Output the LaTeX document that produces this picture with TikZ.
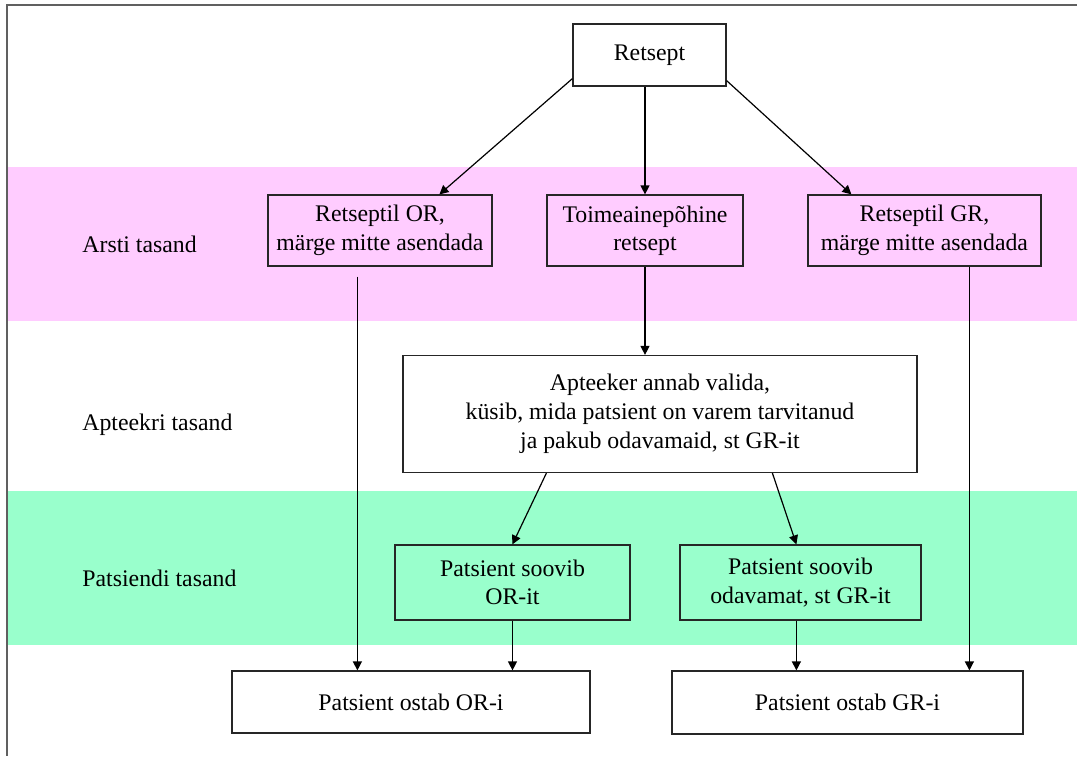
\documentclass[tikz,border=0pt]{standalone}
\usepackage{fontspec}
\setmainfont{Liberation Serif}
\usetikzlibrary{calc,arrows.meta}
\definecolor{bandpink}{HTML}{FFCCFF}
\definecolor{bandgreen}{HTML}{99FFCC}
\definecolor{framegray}{HTML}{606060}
\begin{document}
\begin{tikzpicture}[x=0.5pt,y=-0.5pt,
  box/.style={draw=black!85,line width=0.6pt,inner sep=0pt,align=center,
    font=\fontsize{11.9}{14.2}\selectfont},
  lvl/.style={anchor=west,inner sep=0pt,font=\fontsize{11.9}{14.2}\selectfont},
  arr/.style={-{Triangle[length=4.5pt,width=4.5pt]},line width=0.6pt,black}]
\useasboundingbox (0,0) rectangle (1077,756);
% bands
\fill[bandpink] (8,167) rectangle (1077,321);
\fill[bandgreen] (8,491) rectangle (1077,645);
% frame
\draw[framegray,line width=0.8pt] (1077,5) -- (7,5) -- (7,756);
% level labels
\node[lvl] (l1) at (82,244) {Arsti tasand};
\node[lvl] (l2) at (82,425) {Apteekri tasand};
\node[lvl] (l3) at (82,578) {Patsiendi tasand};
% boxes
\node[box,fill=white,minimum width=76.5pt,minimum height=31pt] (ret) at (649.5,55) {Retsept};
\node[box,fill=bandpink,minimum width=112pt,minimum height=35.5pt] (orbox) at (380,230.5) {Retseptil OR,\\märge mitte asendada};
\node[box,fill=bandpink,minimum width=98pt,minimum height=35.5pt] (toim) at (645,230.5) {Toimeainepõhine\\retsept};
\node[box,fill=bandpink,minimum width=116.5pt,minimum height=35.5pt] (grbox) at (924.5,230.5) {Retseptil GR,\\märge mitte asendada};
\node[box,fill=white,minimum width=257pt,minimum height=58.5pt,font=\fontsize{11.9}{14.6}\selectfont] (apt) at (660,414) {Apteeker annab valida,\\küsib, mida patsient on varem tarvitanud\\ja pakub odavamaid, st GR-it};
\node[box,fill=bandgreen,minimum width=117.5pt,minimum height=37.5pt] (sor) at (512.5,582.5) {Patsient soovib\\OR-it};
\node[box,fill=bandgreen,minimum width=120.5pt,minimum height=37.5pt] (sgr) at (800.5,582.5) {Patsient soovib\\odavamat, st GR-it};
\node[box,fill=white,minimum width=179pt,minimum height=31pt] (oor) at (411,702) {Patsient ostab OR-i};
\node[box,fill=white,minimum width=175.5pt,minimum height=31.5pt] (ogr) at (847.5,702.5) {Patsient ostab GR-i};
% connectors
\draw[arr] ($(ret.south west)+(0,-8)$) -- ($(orbox.north west)+(172,0)$);
\draw[arr] (toim.north |- ret.south) -- (toim.north);
\draw[arr] ($(ret.south east)+(0,-6)$) -- ($(grbox.north west)+(44,0)$);
\draw[arr] (toim.south) -- (toim.south |- apt.north);
\draw[arr] ($(orbox.south west)+(90,10)$) coordinate (a1) -- (a1 |- oor.north);
\draw[arr] ($(grbox.south west)+(162,0)$) coordinate (a2) -- (a2 |- ogr.north);
\draw[arr] ($(apt.south west)+(144,0)$) -- ($(sor.north west)+(118,0)$);
\draw[arr] ($(apt.south west)+(370,0)$) -- ($(sgr.north west)+(117,0)$);
\draw[arr] (sor.south) -- (sor.south |- oor.north);
\draw[arr] ($(sgr.south west)+(117,0)$) coordinate (a3) -- (a3 |- ogr.north);
\end{tikzpicture}
\end{document}
